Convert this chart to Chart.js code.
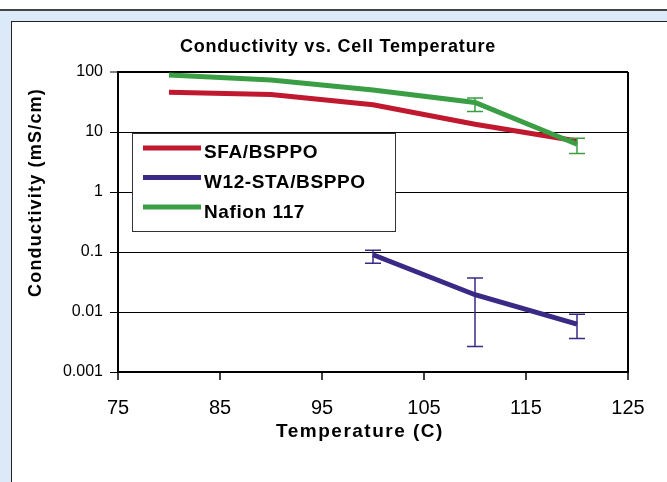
<!DOCTYPE html>
<html lang="en">
<head>
  <meta charset="UTF-8">
  <meta name="viewport" content="width=device-width, initial-scale=1.0">
  <script src="https://cdn.jsdelivr.net/npm/chart.js"></script>
  <title>Conductivity vs. Cell Temperature</title>
  <style>
    html, body{margin: 0; padding: 0;}
    body{width: 667px; height: 482px; overflow: hidden; position: relative; background: #dce9f8;}
    #topbar{position: absolute; left: 0; top: 0; width: 667px; height: 9px; background: #fff; border-bottom: 2px solid #444;}
    #panel{position: absolute; left: 11px; top: 21px; width: 700px; height: 500px; background: #fff; border: 1.5px solid #222;}
    #wrap{position: absolute; left: 0; top: 0; width: 667px; height: 482px;}
  </style>
  <script>
    // data
    const temps = [80, 90, 100, 110, 120];
    const sfaValues = [46, 42, 28.5, 13.5, 7.1];
    const w12Values = [null, null, 0.09, 0.0194, 0.0063];
    const w12ErrHigh = [null, null, 0.107, 0.037, 0.0092];
    const w12ErrLow = [null, null, 0.065, 0.00265, 0.0036];
    const nafionValues = [89, 73.5, 50, 31, 6.25];
    const nafionErrHigh = [null, null, null, 37, 7.9];
    const nafionErrLow = [null, null, null, 22, 4.4];
    const xTicks = [75, 85, 95, 105, 115, 125];
    const yTicks = [0.001, 0.01, 0.1, 1, 10, 100];
    const seriesNames = ['SFA/BSPPO', 'W12-STA/BSPPO', 'Nafion 117'];
    const seriesColors = ['#c0182f', '#3a2a86', '#3a9e44'];
    const chartTitle = 'Conductivity vs. Cell Temperature';
    const xTitle = 'Temperature (C)';
    const yTitle = 'Conductivity (mS/cm)';

    const FONT = '"Liberation Sans", Arial, sans-serif';

    function points(vals){
      return temps.map((t, i) => ({x: t, y: vals[i]}));
    }

    // error bars
    const errorBars = {
      id: 'errorBars',
      afterDatasetsDraw(chart){
        const ctx = chart.ctx, xs = chart.scales.x, ys = chart.scales.y;
        chart.data.datasets.forEach(ds => {
          if(!ds.errHigh) return;
          ctx.save();
          ctx.strokeStyle = ds.borderColor;
          ctx.lineWidth = 1.5;
          temps.forEach((t, i) => {
            if(ds.errHigh[i] == null) return;
            const x = xs.getPixelForValue(t);
            const y1 = ys.getPixelForValue(ds.errHigh[i]);
            const y2 = ys.getPixelForValue(ds.errLow[i]);
            ctx.beginPath();
            ctx.moveTo(x, y1); ctx.lineTo(x, y2);
            ctx.moveTo(x - 8, y1); ctx.lineTo(x + 8, y1);
            ctx.moveTo(x - 8, y2); ctx.lineTo(x + 8, y2);
            ctx.stroke();
          });
          ctx.restore();
        });
      }
    };

    // titles + legend box
    const chartText = {
      id: 'chartText',
      afterDraw(chart){
        const ctx = chart.ctx;
        ctx.save();
        ctx.fillStyle = '#000';
        ctx.textBaseline = 'alphabetic';

        ctx.textAlign = 'center';
        ctx.font = 'bold 18px ' + FONT;
        ctx.letterSpacing = '0.8px';
        ctx.fillText(chartTitle, 338, 52);

        ctx.font = 'bold 19px ' + FONT;
        ctx.letterSpacing = '1.5px';
        ctx.fillText(xTitle, 360, 437);

        ctx.save();
        ctx.translate(40.5, 192.5);
        ctx.rotate(-Math.PI / 2);
        ctx.font = 'bold 18px ' + FONT;
        ctx.letterSpacing = '1.2px';
        ctx.fillText(yTitle, 0, 0);
        ctx.restore();

        // legend
        ctx.fillStyle = '#fff';
        ctx.fillRect(132, 133, 263, 98);
        ctx.strokeStyle = '#333';
        ctx.lineWidth = 1;
        ctx.strokeRect(132.5, 133.5, 263, 98);

        const lineY = [148, 177.5, 207];
        const textY = [158, 188, 217.5];
        ctx.textAlign = 'left';
        ctx.font = 'bold 19px ' + FONT;
        ctx.letterSpacing = '0.6px';
        seriesNames.forEach((name, i) => {
          ctx.strokeStyle = seriesColors[i];
          ctx.lineWidth = 5;
          ctx.beginPath();
          ctx.moveTo(143, lineY[i]);
          ctx.lineTo(201, lineY[i]);
          ctx.stroke();
          ctx.fillStyle = '#000';
          ctx.fillText(name, 204, textY[i]);
        });
        ctx.restore();
      }
    };

    window.addEventListener('DOMContentLoaded', function(){
      const ctx = document.getElementById('myChart');

      new Chart(ctx, {
        type: 'line',
        data: {
          datasets: [{
            label: seriesNames[0],
            data: points(sfaValues),
            borderColor: seriesColors[0],
            borderWidth: 5,
            order: 2
          }, {
            label: seriesNames[1],
            data: points(w12Values),
            borderColor: seriesColors[1],
            borderWidth: 5,
            errHigh: w12ErrHigh,
            errLow: w12ErrLow,
            order: 1
          }, {
            label: seriesNames[2],
            data: points(nafionValues),
            borderColor: seriesColors[2],
            borderWidth: 5,
            errHigh: nafionErrHigh,
            errLow: nafionErrLow,
            order: 0
          }]
        },
        options: {
          responsive: false,
          animation: false,
          layout: {padding: {left: 0, top: 72, right: 39, bottom: 0}},
          elements: {point: {radius: 0}, line: {tension: 0}},
          plugins: {legend: {display: false}, tooltip: {enabled: false}, title: {display: false}},
          scales: {
            x: {
              type: 'linear',
              min: 75,
              max: 125,
              afterBuildTicks: s => { s.ticks = xTicks.map(v => ({value: v})); },
              afterFit: s => { s.height = 110; },
              ticks: {font: {family: FONT, size: 20}, color: '#000', padding: 16, maxRotation: 0, autoSkip: false},
              grid: {
                color: c => (c.tick && c.tick.value === 125) ? '#000' : 'rgba(0,0,0,0)',
                lineWidth: 2,
                tickColor: '#000',
                tickLength: 8,
                tickWidth: 1.5
              },
              border: {display: true, color: '#000', width: 2}
            },
            y: {
              type: 'logarithmic',
              min: 0.001,
              max: 100,
              afterBuildTicks: s => { s.ticks = yTicks.map(v => ({value: v})); },
              afterFit: s => { s.width = 118; },
              ticks: {font: {family: FONT, size: 16}, color: '#000', padding: 7, callback: v => String(v)},
              grid: {
                color: '#000',
                lineWidth: c => (c.tick && c.tick.value === 100) ? 2 : 1,
                tickColor: '#000',
                tickLength: 8,
                tickWidth: 1
              },
              border: {display: true, color: '#000', width: 2}
            }
          }
        },
        plugins: [errorBars, chartText]
      });
    });
  </script>
</head>
<body>
  <div id="topbar"></div>
  <div id="panel"></div>
  <div id="wrap">
    <canvas id="myChart" width="667" height="482"></canvas>
  </div>
</body>
</html>
